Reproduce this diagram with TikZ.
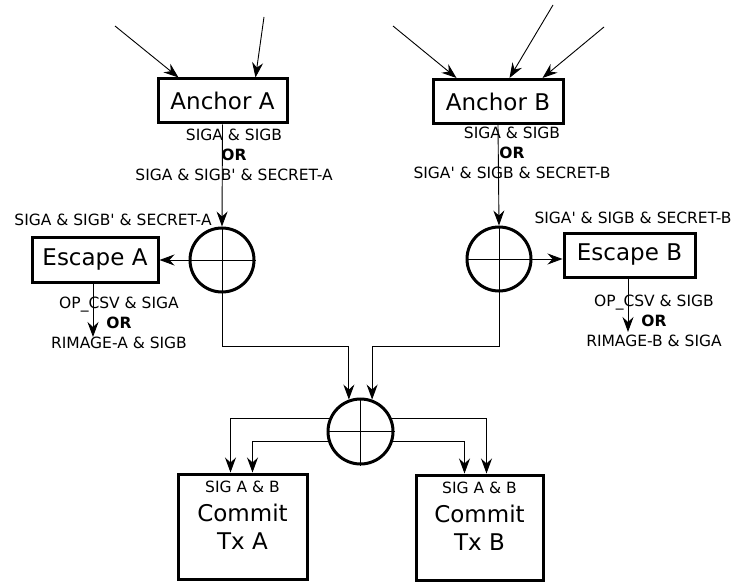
\documentclass[tikz,border=0pt]{standalone}
\usepackage{fontspec}
\setmainfont{DejaVu Sans}
\usetikzlibrary{positioning, arrows.meta, calc}

\begin{document}
\begin{tikzpicture}[
    x=1pt, y=-1pt,
    >={Stealth[length=15pt, width=11pt, inset=5pt]},
    every node/.style={font=\fontsize{23}{29}\selectfont},
    box/.style={draw, line width=3pt, inner sep=0pt, align=center, minimum width=129pt, minimum height=44pt},
    gate/.style={draw, circle, line width=3pt, minimum size=64pt, inner sep=0pt},
    cond/.style={align=center, inner sep=0pt, font=\fontsize{15.5}{20}\selectfont},
    wire/.style={->, line width=0.9pt}
]
    \useasboundingbox (0,0) rectangle (736,583);

    % Boxes
    \node[box] (anchorA) at (222.5,101) {Anchor A};
    \node[box, minimum width=130pt] (anchorB) at (498,101.5) {Anchor B};
    \node[box, minimum width=126pt, minimum height=45pt] (escA) at (95,259.5) {Escape A};
    \node[box, minimum width=131pt] (escB) at (629.5,255) {Escape B};
    \node[box, minimum height=105pt] (commitA) at (242.5,526.5) {Commit\\[-1pt]Tx A};
    \node[box, minimum width=127pt, minimum height=105pt] (commitB) at (479.5,527.5) {Commit\\[-1pt]Tx B};
    \node[cond, below=8pt of commitA.north] (sigAB_A) {SIG A \& B};
    \node[cond, below=8pt of commitB.north] (sigAB_B) {SIG A \& B};

    % Gates
    \node[gate] (gateA) at (222,260) {};
    \node[gate] (gateB) at (499,259) {};
    \node[gate, minimum size=65pt] (gateC) at (360.5,431.5) {};
    \foreach \g in {gateA, gateB, gateC} {
        \draw[line width=0.9pt] (\g.north) -- (\g.south);
        \draw[line width=0.9pt] (\g.west) -- (\g.east);
    }

    % Conditions
    \node[cond] (condA) at (234,155) {SIGA \& SIGB\\\textbf{OR}\\SIGA \& SIGB\textquotesingle{} \& SECRET-A};
    \node[cond] (condB) at (512,153) {SIGA \& SIGB\\\textbf{OR}\\SIGA\textquotesingle{} \& SIGB \& SECRET-B};
    \node[cond] (condEscA) at (113,220) {SIGA \& SIGB\textquotesingle{} \& SECRET-A};
    \node[cond] (condEscB) at (633,218) {SIGA\textquotesingle{} \& SIGB \& SECRET-B};
    \node[cond] (outEscA) at (119,323) {OP\_CSV \& SIGA\\\textbf{OR}\\RIMAGE-A \& SIGB};
    \node[cond] (outEscB) at (654,321) {OP\_CSV \& SIGB\\\textbf{OR}\\RIMAGE-B \& SIGA};

    % Inputs
    \coordinate (inA1) at (115,26);
    \coordinate (inA2) at (264,17);
    \coordinate (inB1) at (393,26);
    \coordinate (inB2) at (553,5);
    \coordinate (inB3) at (604,27);
    \coordinate (endEscA) at (93,337);
    \coordinate (endEscB) at (628,332);

    % Transitions
    \draw[wire] (inA1) -- ([xshift=22pt]anchorA.north west);
    \draw[wire] (inA2) -- ([xshift=-33pt]anchorA.north east);
    \draw[wire] (inB1) -- ([xshift=25pt]anchorB.north west);
    \draw[wire] (inB2) -- ([xshift=78pt]anchorB.north west);
    \draw[wire] (inB3) -- ([xshift=-22pt]anchorB.north east);

    \draw[wire] (anchorA.south) -- (gateA.north);
    \draw[wire] (anchorB.south) -- (gateB.north);
    \draw[wire] (gateA.west) -- (escA.east |- gateA.west);
    \draw[wire] (gateB.east) -- (escB.west |- gateB.east);
    \draw[wire] (escA.south -| endEscA) -- (endEscA);
    \draw[wire] (escB.south -| endEscB) -- (endEscB);

    \draw[wire] (gateA.south) -- ++(0,53) -| (gateC.110);
    \draw[wire] (gateB.south) -- ++(0,54) -| (gateC.70);

    \draw[wire] (gateC.157) -| ([xshift=54pt]commitA.north west);
    \draw[wire] (gateC.197) -| ([xshift=76pt]commitA.north west);
    \draw[wire] (gateC.-17) -| ([xshift=50pt]commitB.north west);
    \draw[wire] (gateC.23) -| ([xshift=72pt]commitB.north west);
\end{tikzpicture}
\end{document}
